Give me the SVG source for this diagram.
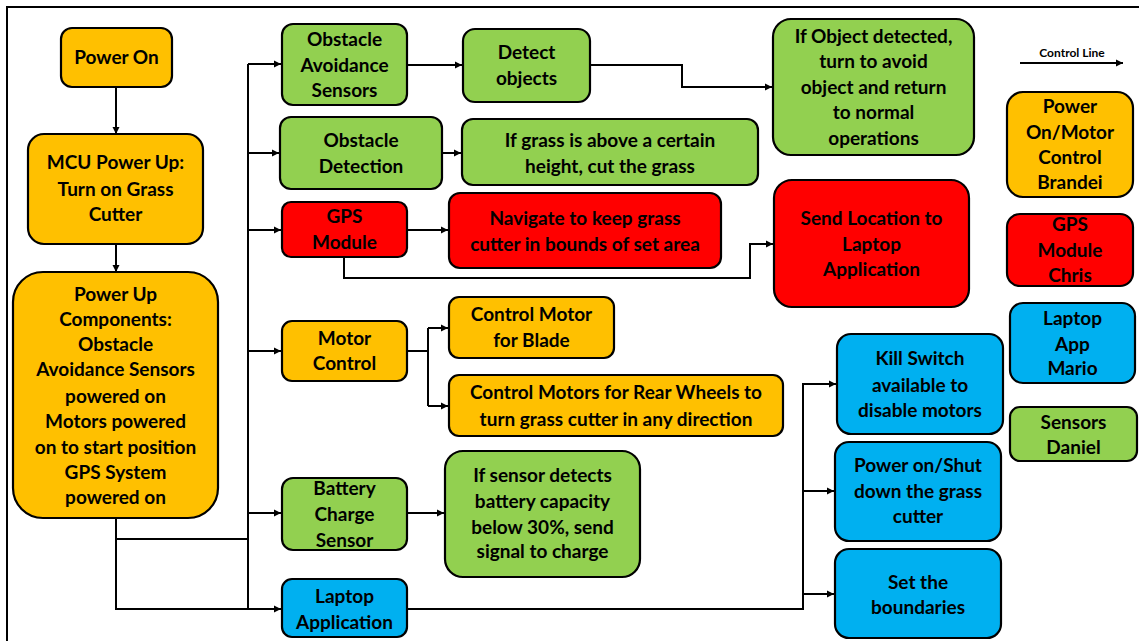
<svg xmlns="http://www.w3.org/2000/svg" width="1139" height="641" viewBox="0 0 1139 641">
<style>
.box{stroke:#000;stroke-width:2.2}
.o{fill:#FFC000}.g{fill:#92D050}.r{fill:#FF0000}.b{fill:#00B0F0}
text{font-family:Lato,"Liberation Sans",sans-serif;font-weight:bold;font-size:19px;fill:#000;text-anchor:middle}
.c{fill:none;stroke:#000;stroke-width:2}
.a{marker-end:url(#ah)}
</style>
<defs>
<marker id="ah" markerUnits="userSpaceOnUse" markerWidth="8" markerHeight="8" refX="7" refY="4" orient="auto">
<path d="M0,0.5 L7,4 L0,7.5 z" fill="#000"/>
</marker>
</defs>
<rect width="1139" height="641" fill="#fff"/>
<path d="M7,641 V7 H1139" fill="none" stroke="#000" stroke-width="2"/>

<g id="connectors">
<path class="c a" d="M116,87 V134"/>
<path class="c a" d="M116,244 V272"/>
<path class="c" d="M116,518 V539 H248"/>
<path class="c a" d="M116,539 V609 H281"/>
<path class="c" d="M248,64 V609"/>
<path class="c a" d="M248,64 H281"/>
<path class="c a" d="M248,153 H279"/>
<path class="c a" d="M248,230 H281"/>
<path class="c a" d="M248,351 H281"/>
<path class="c a" d="M248,513 H281"/>
<path class="c a" d="M407,65 H462"/>
<path class="c a" d="M590,65 H682 V87 H772"/>
<path class="c a" d="M442,153 H461"/>
<path class="c a" d="M407,230 H448"/>
<path class="c a" d="M344,257 V278 H750 V244 H773"/>
<path class="c" d="M407,351 H428 M428,328 V406"/>
<path class="c a" d="M428,328 H448"/>
<path class="c a" d="M428,406 H448"/>
<path class="c a" d="M407,513 H444"/>
<path class="c a" d="M407,609 H803 V384 H836"/>
<path class="c a" d="M803,491 H834"/>
<path class="c a" d="M803,594 H834"/>
<path class="c a" d="M1020,63 H1123"/>
</g>

<g id="power-on"><rect class="box o" x="61" y="28" width="111" height="59" rx="11"/><text x="116.5" y="64">Power On</text></g>
<g id="mcu-power-up"><rect class="box o" x="28" y="134" width="175" height="110" rx="16"/>
<text x="115.5" y="169">MCU Power Up:</text><text x="115.5" y="196">Turn on Grass</text><text x="115.5" y="221">Cutter</text></g>
<g id="power-up-components"><rect class="box o" x="13" y="272" width="205" height="246" rx="30"/>
<text x="115.5" y="301">Power Up</text><text x="115.5" y="326">Components:</text><text x="115.5" y="351">Obstacle</text><text x="115.5" y="376">Avoidance Sensors</text><text x="115.5" y="403">powered on</text><text x="115.5" y="428">Motors powered</text><text x="115.5" y="454">on to start position</text><text x="115.5" y="479">GPS System</text><text x="115.5" y="504">powered on</text></g>

<g id="obstacle-avoidance-sensors"><rect class="box g" x="282" y="24" width="125" height="81" rx="11"/>
<text x="344.5" y="46">Obstacle</text><text x="344.5" y="72">Avoidance</text><text x="344.5" y="97">Sensors</text></g>
<g id="obstacle-detection"><rect class="box g" x="280" y="117" width="162" height="72" rx="11"/>
<text x="361" y="147">Obstacle</text><text x="361" y="173">Detection</text></g>
<g id="gps-module"><rect class="box r" x="282" y="202" width="125" height="55" rx="9"/>
<text x="344.5" y="223">GPS</text><text x="344.5" y="249">Module</text></g>
<g id="motor-control"><rect class="box o" x="282" y="321" width="125" height="60" rx="10"/>
<text x="344.5" y="345">Motor</text><text x="344.5" y="370">Control</text></g>
<g id="battery-charge-sensor"><rect class="box g" x="282" y="478" width="125" height="72" rx="11"/>
<text x="344.5" y="495">Battery</text><text x="344.5" y="521">Charge</text><text x="344.5" y="547">Sensor</text></g>
<g id="laptop-application"><rect class="box b" x="282" y="579" width="125" height="58" rx="10"/>
<text x="344.5" y="603">Laptop</text><text x="344.5" y="629">Application</text></g>

<g id="detect-objects"><rect class="box g" x="463" y="29" width="127" height="73" rx="12"/>
<text x="526.5" y="59">Detect</text><text x="526.5" y="85">objects</text></g>
<g id="if-grass"><rect class="box g" x="462" y="119" width="296" height="66" rx="11"/>
<text x="610" y="147">If grass is above a certain</text><text x="610" y="173">height, cut the grass</text></g>
<g id="navigate"><rect class="box r" x="449" y="193" width="272" height="75" rx="11"/>
<text x="585" y="225">Navigate to keep grass</text><text x="585" y="251">cutter in bounds of set area</text></g>
<g id="control-motor-blade"><rect class="box o" x="449" y="297" width="165" height="61" rx="10"/>
<text x="531.5" y="321">Control Motor</text><text x="531.5" y="347">for Blade</text></g>
<g id="control-motors-rear"><rect class="box o" x="449" y="375" width="334" height="61" rx="10"/>
<text x="616" y="399">Control Motors for Rear Wheels to</text><text x="616" y="426">turn grass cutter in any direction</text></g>
<g id="if-sensor"><rect class="box g" x="445" y="451" width="195" height="126" rx="18"/>
<text x="542.5" y="482">If sensor detects</text><text x="542.5" y="508">battery capacity</text><text x="542.5" y="534">below 30%, send</text><text x="542.5" y="558">signal to charge</text></g>

<g id="if-object-detected"><rect class="box g" x="773" y="19" width="201" height="136" rx="18"/>
<text x="873.5" y="43">If Object detected,</text><text x="873.5" y="68">turn to avoid</text><text x="873.5" y="94">object and return</text><text x="873.5" y="119">to normal</text><text x="873.5" y="145">operations</text></g>
<g id="send-location"><rect class="box r" x="774" y="180" width="195" height="127" rx="18"/>
<text x="871.5" y="225">Send Location to</text><text x="871.5" y="251">Laptop</text><text x="871.5" y="276">Application</text></g>
<g id="kill-switch"><rect class="box b" x="837" y="334" width="166" height="100" rx="14"/>
<text x="920" y="365">Kill Switch</text><text x="920" y="392">available to</text><text x="920" y="417">disable motors</text></g>
<g id="power-on-shut"><rect class="box b" x="835" y="442" width="166" height="99" rx="14"/>
<text x="918" y="472">Power on/Shut</text><text x="918" y="498">down the grass</text><text x="918" y="523">cutter</text></g>
<g id="set-boundaries"><rect class="box b" x="835" y="549" width="166" height="89" rx="14"/>
<text x="918" y="589">Set the</text><text x="918" y="614">boundaries</text></g>

<g id="legend-control-line"><text x="1072" y="57" style="font-size:12px">Control Line</text></g>
<g id="legend-brandei"><rect class="box o" x="1007" y="92" width="126" height="105" rx="16"/>
<text x="1070" y="113">Power</text><text x="1070" y="139">On/Motor</text><text x="1070" y="164">Control</text><text x="1070" y="189">Brandei</text></g>
<g id="legend-chris"><rect class="box r" x="1007" y="214" width="126" height="72" rx="13"/>
<text x="1070" y="231">GPS</text><text x="1070" y="257">Module</text><text x="1070" y="282">Chris</text></g>
<g id="legend-mario"><rect class="box b" x="1010" y="303" width="125" height="80" rx="13"/>
<text x="1072.5" y="325">Laptop</text><text x="1072.5" y="351">App</text><text x="1072.5" y="375">Mario</text></g>
<g id="legend-daniel"><rect class="box g" x="1010" y="407" width="127" height="54" rx="10"/>
<text x="1073.5" y="429">Sensors</text><text x="1073.5" y="454">Daniel</text></g>
</svg>
